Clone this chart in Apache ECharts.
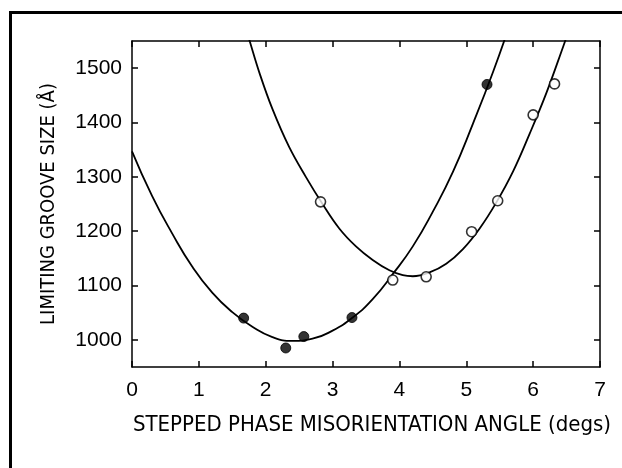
<!DOCTYPE html>
<html>
<head>
<meta charset="utf-8">
<script src="https://cdn.jsdelivr.net/npm/echarts@6/dist/echarts.min.js"></script>
<style>
html,body{margin:0;padding:0;background:#fff;}
#chart{width:622px;height:468px;}
</style>
</head>
<body>
<div id="chart"></div>
<script>
// Measured points (filled circles)
const filledX = [1.67, 2.30, 2.57, 3.29, 5.31];
const filledY = [1040, 985, 1006, 1041, 1470];
// Measured points (open circles)
const openX = [2.82, 3.90, 4.40, 5.08, 5.47, 6.00, 6.32];
const openY = [1254, 1110, 1116, 1199, 1256, 1414, 1471];
// Fitted curve through filled points
const filledFitX = [0, 0.3, 0.6, 0.9, 1.2, 1.5, 1.8, 2.1, 2.4, 2.7, 3.0, 3.3, 3.6, 3.9, 4.2, 4.5, 4.8, 5.1, 5.4, 5.65];
const filledFitY = [1347, 1265, 1196, 1135, 1087, 1051, 1024, 1005, 998, 1002, 1017, 1041, 1075, 1121, 1172, 1236, 1309, 1398, 1493, 1580];
// Fitted curve through open points
const openFitX = [1.70, 1.76, 1.91, 2.10, 2.35, 2.60, 2.85, 3.10, 3.35, 3.60, 3.85, 4.05, 4.20, 4.45, 4.70, 4.95, 5.20, 5.45, 5.70, 5.95, 6.20, 6.45, 6.55];
const openFitY = [1575, 1550, 1490, 1425, 1355, 1300, 1250, 1205, 1172, 1147, 1128, 1119, 1117, 1124, 1140, 1167, 1205, 1253, 1310, 1380, 1455, 1540, 1575];
// Axis ticks
const xTicks = [0, 1, 2, 3, 4, 5, 6, 7];
const yTicks = [1000, 1100, 1200, 1300, 1400, 1500];
const xTitle = 'STEPPED PHASE MISORIENTATION ANGLE (degs)';
const yTitle = 'LIMITING GROOVE SIZE (Å)';

const NARROW = '"Liberation Sans Narrow", "DejaVu Sans Condensed", sans-serif';
const NUMFONT = '"Liberation Sans", Arial, sans-serif';
const zip = (xs, ys) => xs.map((x, i) => [x, ys[i]]);
const plain = v => String(v);

const chart = echarts.init(document.getElementById('chart'), null, {renderer: 'canvas'});
const lineStyleAxis = {color: '#000', width: 1.5};
chart.setOption({
  animation: false,
  backgroundColor: '#fff',
  grid: {left: 132, top: 41, width: 468, height: 326, containLabel: false},
  xAxis: [{
    type: 'value', position: 'bottom', min: 0, max: 7, interval: 1,
    axisLine: {show: true, onZero: false, lineStyle: lineStyleAxis},
    axisTick: {show: true, inside: true, length: 6, lineStyle: lineStyleAxis, customValues: xTicks},
    axisLabel: {show: true, margin: 13, color: '#000', fontFamily: NUMFONT, fontSize: 21, formatter: plain, customValues: xTicks},
    splitLine: {show: false},
    name: xTitle, nameLocation: 'middle', nameGap: 47,
    nameTextStyle: {color: '#000', fontFamily: NARROW, fontSize: 22, padding: [0, 0, 0, 12]}
  }, {
    type: 'value', position: 'top', min: 0, max: 7, interval: 1,
    axisLine: {show: true, onZero: false, lineStyle: lineStyleAxis},
    axisTick: {show: true, inside: true, length: 6, lineStyle: lineStyleAxis, customValues: xTicks},
    axisLabel: {show: false},
    splitLine: {show: false}
  }],
  yAxis: [{
    type: 'value', position: 'left', min: 950, max: 1550,
    axisLine: {show: true, onZero: false, lineStyle: lineStyleAxis},
    axisTick: {show: true, inside: true, length: 6, lineStyle: lineStyleAxis, customValues: yTicks},
    axisLabel: {show: true, margin: 10, color: '#000', fontFamily: NUMFONT, fontSize: 21, formatter: plain, customValues: yTicks},
    splitLine: {show: false},
    name: yTitle, nameLocation: 'middle', nameGap: 73,
    nameTextStyle: {color: '#000', fontFamily: NARROW, fontSize: 20}
  }, {
    type: 'value', position: 'right', min: 950, max: 1550,
    axisLine: {show: true, onZero: false, lineStyle: lineStyleAxis},
    axisTick: {show: true, inside: true, length: 6, lineStyle: lineStyleAxis, customValues: yTicks},
    axisLabel: {show: false},
    splitLine: {show: false}
  }],
  series: [{
    type: 'line', data: zip(filledFitX, filledFitY), smooth: 0.5, symbol: 'none', clip: true,
    lineStyle: {color: '#000', width: 1.8}, z: 2
  }, {
    type: 'line', data: zip(openFitX, openFitY), smooth: 0.4, symbol: 'none', clip: true,
    lineStyle: {color: '#000', width: 1.8}, z: 2
  }, {
    type: 'scatter', data: zip(filledX, filledY), symbol: 'circle', symbolSize: 10,
    itemStyle: {color: '#000', borderColor: '#000', borderWidth: 1}, z: 3
  }, {
    type: 'scatter', data: zip(openX, openY), symbol: 'circle', symbolSize: 10,
    itemStyle: {color: '#fff', borderColor: '#000', borderWidth: 1.6}, z: 3
  }],
  graphic: [
    {type: 'line', shape: {x1: 9, y1: 12.5, x2: 622, y2: 12.5}, style: {stroke: '#000', lineWidth: 3}},
    {type: 'line', shape: {x1: 10.5, y1: 11, x2: 10.5, y2: 468}, style: {stroke: '#000', lineWidth: 3}}
  ]
});
</script>
</body>
</html>
